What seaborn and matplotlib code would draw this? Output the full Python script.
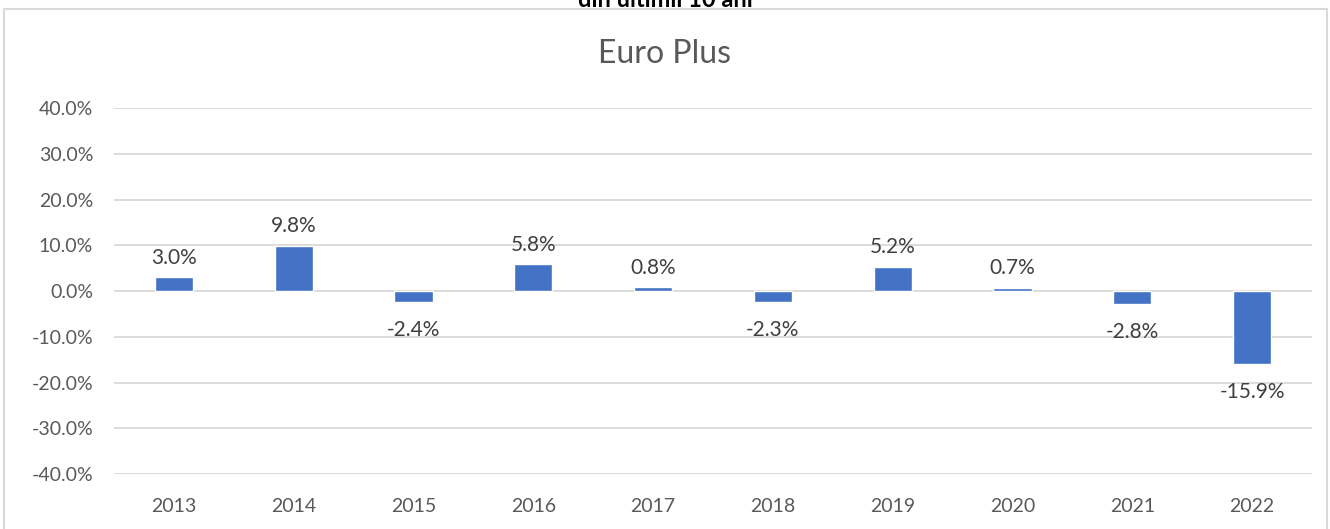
import matplotlib
matplotlib.use("Agg")
import matplotlib.pyplot as plt
import seaborn as sns
import pandas as pd
from matplotlib.patches import Rectangle
from matplotlib.ticker import PercentFormatter

years = ["2013", "2014", "2015", "2016", "2017", "2018", "2019", "2020", "2021", "2022"]
changes = [3.0, 9.8, -2.4, 5.8, 0.8, -2.3, 5.2, 0.7, -2.8, -15.9]
yticks = [-40, -30, -20, -10, 0, 10, 20, 30, 40]

df = pd.DataFrame({"An": years, "Variatie": changes})

sns.set_theme(style="white")
plt.rcParams['font.family'] = ['Lato', 'DejaVu Sans']
plt.rcParams['axes.unicode_minus'] = False

fig = plt.figure(figsize=(13.3, 5.29), dpi=100)
ax = fig.add_axes([114/1330, 1 - 474/529, 1198/1330, 366/529])

sns.barplot(data=df, x="An", y="Variatie", color="#4472C4", width=0.32,
            saturation=1, ax=ax, zorder=3)

ax.set_ylim(-40, 40)
ax.set_yticks(yticks)
ax.yaxis.set_major_formatter(PercentFormatter(decimals=1))
ax.grid(axis="y", color="#d9d9d9", linewidth=1.3, zorder=0)
ax.grid(axis="x", visible=False)
for s in ax.spines.values():
    s.set_visible(False)
ax.tick_params(axis="both", length=0, labelsize=14, colors="#595959")
ax.tick_params(axis="x", pad=17)
ax.tick_params(axis="y", pad=15)
ax.set_xlabel("")
ax.set_ylabel("")

for i, v in enumerate(changes):
    if v >= 0:
        ax.annotate(f"{v:.1f}%", (i, v), xytext=(0, 7), textcoords="offset points",
                    ha="center", va="bottom", fontsize=15, color="#404040")
    else:
        ax.annotate(f"{v:.1f}%", (i, v), xytext=(0, -13), textcoords="offset points",
                    ha="center", va="top", fontsize=15, color="#404040")

fig.text(0.5, 1 - 54/529, "Euro Plus", ha="center", va="center",
         fontsize=23, color="#595959")

# chart frame, cut off at the bottom like the screenshot
fig.patches.append(Rectangle((4/1330, -0.05), 1323/1330, 1.05 - 9/529,
                             transform=fig.transFigure, fill=False,
                             edgecolor="#d9d9d9", linewidth=1.5))
# title of the page above, mostly cropped away
fig.text(0.5, 1 - 7/529, "din ultimii 10 ani", ha="center", va="baseline",
         fontsize=17, fontweight="bold", color="black")

plt.savefig("out.png", dpi=100)
